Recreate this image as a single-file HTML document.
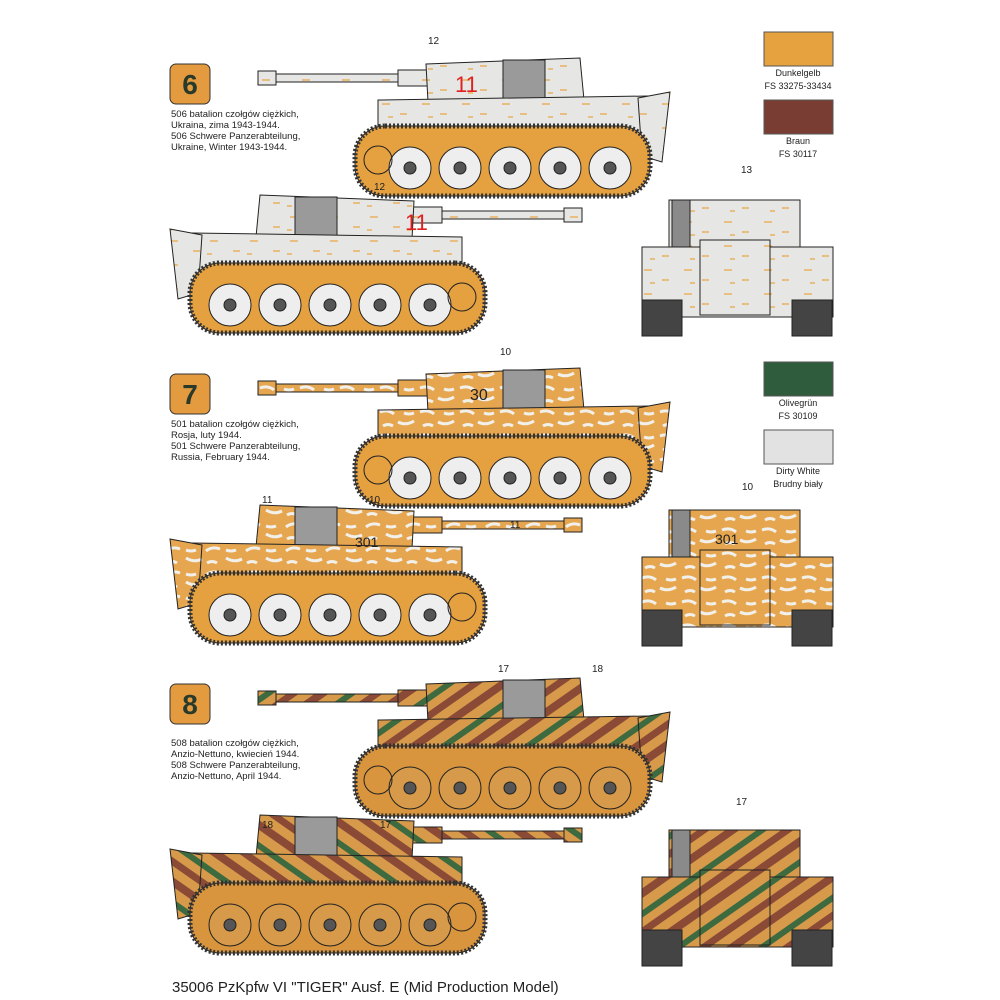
<!DOCTYPE html>
<html><head><style>
html,body{margin:0;padding:0;background:#fff;}
svg{display:block;}
text{font-family:"Liberation Sans",sans-serif;}
</style></head><body>
<svg width="1000" height="1000" viewBox="0 0 1000 1000" xmlns="http://www.w3.org/2000/svg">
<defs>
<pattern id="p7" width="40" height="24" patternUnits="userSpaceOnUse">
  <rect width="40" height="24" fill="#e6a650"/>
  <path d="M2,4 q8,-3 14,2 M20,14 q8,4 16,-1 M5,18 q5,-3 10,0 M26,5 q5,2 10,0" stroke="#f2f0ea" stroke-width="3" fill="none"/>
</pattern>
<pattern id="p8" width="48" height="48" patternUnits="userSpaceOnUse" patternTransform="rotate(-35)">
  <rect width="48" height="48" fill="#d69a4a"/>
  <rect x="0" y="4" width="48" height="8" fill="#8a4a36"/>
  <rect x="0" y="22" width="48" height="6" fill="#3e6a40"/>
  <rect x="0" y="36" width="48" height="7" fill="#8a4a36"/>
</pattern>
<pattern id="p6" width="40" height="24" patternUnits="userSpaceOnUse">
  <rect width="40" height="24" fill="#e6e6e4"/>
  <path d="M4,6 h8 M22,16 h7 M10,19 h5" stroke="#e8b060" stroke-width="1.5"/>
</pattern>
<g id="side" stroke="#222" stroke-width="1">
  <rect x="0" y="21" width="18" height="14" fill="var(--body)"/>
  <rect x="18" y="24" width="160" height="8" fill="var(--body)"/>
  <rect x="140" y="20" width="35" height="16" fill="var(--body)"/>
  <polygon points="168,14 322,8 326,50 170,52" fill="var(--body)"/>
  <rect x="245" y="10" width="42" height="40" fill="#9a9a9a"/>
  <polygon points="120,50 390,46 392,90 120,90" fill="var(--body)"/>
  <polygon points="380,48 412,42 404,112 384,106" fill="var(--body)"/>
  <rect x="97" y="76" width="295" height="70" rx="30" fill="var(--low)"/>
  <rect x="97" y="76" width="295" height="70" rx="30" fill="none" stroke="#333" stroke-width="5" stroke-dasharray="2,2"/>
  <g fill="var(--wheel)">
    <circle cx="152" cy="118" r="21"/><circle cx="202" cy="118" r="21"/><circle cx="252" cy="118" r="21"/><circle cx="302" cy="118" r="21"/><circle cx="352" cy="118" r="21"/>
  </g>
  <g fill="#555"><circle cx="152" cy="118" r="6"/><circle cx="202" cy="118" r="6"/><circle cx="252" cy="118" r="6"/><circle cx="302" cy="118" r="6"/><circle cx="352" cy="118" r="6"/>
  <circle cx="120" cy="110" r="14" fill="none"/></g>
</g>
<g id="rear" stroke="#222" stroke-width="1">
  <rect x="669" y="200" width="131" height="50" fill="var(--body)"/>
  <rect x="672" y="200" width="18" height="50" fill="#8a8a8a"/>
  <rect x="642" y="247" width="191" height="70" fill="var(--body)"/>
  <rect x="700" y="240" width="70" height="75" fill="var(--body)"/>
  <rect x="642" y="300" width="40" height="36" fill="#444"/>
  <rect x="792" y="300" width="40" height="36" fill="#444"/>
</g>
</defs>

<!-- Row 6 -->
<rect x="170" y="64" width="40" height="40" rx="6" fill="#e49a3e" stroke="#333"/>
<text x="190" y="94" font-size="28" font-weight="bold" text-anchor="middle" fill="#2a3a2a">6</text>
<g font-size="9.5" fill="#222">
<text x="171" y="117">506 batalion czołgów ciężkich,</text>
<text x="171" y="128">Ukraina, zima 1943-1944.</text>
<text x="171" y="139">506 Schwere Panzerabteilung,</text>
<text x="171" y="150">Ukraine, Winter 1943-1944.</text>
</g>
<g style="--body:url(#p6);--low:#e5a040;--wheel:#eeeeee">
 <use href="#side" transform="translate(258,50)"/>
 <use href="#side" transform="translate(582,187) scale(-1,1)"/>
 <use href="#rear"/>
</g>
<text x="455" y="92" font-size="22" fill="#e02020">11</text>
<text x="405" y="230" font-size="22" fill="#e02020">11</text>
<text x="428" y="44" font-size="10" fill="#222">12</text>
<text x="374" y="190" font-size="10" fill="#222">12</text>
<text x="741" y="173" font-size="10" fill="#222">13</text>

<!-- swatches -->
<rect x="764" y="32" width="69" height="34" fill="#e5a23e" stroke="#555"/>
<text x="798" y="76" font-size="9" text-anchor="middle" fill="#222">Dunkelgelb</text>
<text x="798" y="89" font-size="9" text-anchor="middle" fill="#222">FS 33275-33434</text>
<rect x="764" y="100" width="69" height="34" fill="#7a3d33" stroke="#555"/>
<text x="798" y="144" font-size="9" text-anchor="middle" fill="#222">Braun</text>
<text x="798" y="157" font-size="9" text-anchor="middle" fill="#222">FS 30117</text>
<rect x="764" y="362" width="69" height="34" fill="#2e5c3c" stroke="#555"/>
<text x="798" y="406" font-size="9" text-anchor="middle" fill="#222">Olivegrün</text>
<text x="798" y="419" font-size="9" text-anchor="middle" fill="#222">FS 30109</text>
<rect x="764" y="430" width="69" height="34" fill="#e2e2e2" stroke="#555"/>
<text x="798" y="474" font-size="9" text-anchor="middle" fill="#222">Dirty White</text>
<text x="798" y="487" font-size="9" text-anchor="middle" fill="#222">Brudny biały</text>

<!-- Row 7 -->
<rect x="170" y="374" width="40" height="40" rx="6" fill="#e49a3e" stroke="#333"/>
<text x="190" y="404" font-size="28" font-weight="bold" text-anchor="middle" fill="#2a3a2a">7</text>
<g font-size="9.5" fill="#222">
<text x="171" y="427">501 batalion czołgów ciężkich,</text>
<text x="171" y="438">Rosja, luty 1944.</text>
<text x="171" y="449">501 Schwere Panzerabteilung,</text>
<text x="171" y="460">Russia, February 1944.</text>
</g>
<g style="--body:url(#p7);--low:#e5a040;--wheel:#eeeeee">
 <use href="#side" transform="translate(258,360)"/>
 <use href="#side" transform="translate(582,497) scale(-1,1)"/>
 <use href="#rear" transform="translate(0,310)"/>
</g>
<text x="470" y="400" font-size="16" fill="#222">30</text>
<text x="355" y="547" font-size="14" fill="#222">301</text>
<text x="715" y="544" font-size="14" fill="#222">301</text>
<text x="500" y="355" font-size="10" fill="#222">10</text>
<text x="510" y="528" font-size="10" fill="#222">11</text>
<text x="262" y="503" font-size="10" fill="#222">11</text>
<text x="369" y="503" font-size="10" fill="#222">10</text>
<text x="742" y="490" font-size="10" fill="#222">10</text>

<!-- Row 8 -->
<rect x="170" y="684" width="40" height="40" rx="6" fill="#e49a3e" stroke="#333"/>
<text x="190" y="714" font-size="28" font-weight="bold" text-anchor="middle" fill="#2a3a2a">8</text>
<g font-size="9.5" fill="#222">
<text x="171" y="746">508 batalion czołgów ciężkich,</text>
<text x="171" y="757">Anzio-Nettuno, kwiecień 1944.</text>
<text x="171" y="768">508 Schwere Panzerabteilung,</text>
<text x="171" y="779">Anzio-Nettuno, April 1944.</text>
</g>
<g style="--body:url(#p8);--low:#d9953e;--wheel:#d69a4a">
 <use href="#side" transform="translate(258,670)"/>
 <use href="#side" transform="translate(582,807) scale(-1,1)"/>
 <use href="#rear" transform="translate(0,630)"/>
</g>
<text x="498" y="672" font-size="10" fill="#222">17</text>
<text x="592" y="672" font-size="10" fill="#222">18</text>
<text x="262" y="828" font-size="10" fill="#222">18</text>
<text x="380" y="828" font-size="10" fill="#222">17</text>
<text x="736" y="805" font-size="10" fill="#222">17</text>

<text x="172" y="992" font-size="15" fill="#222">35006 PzKpfw VI "TIGER" Ausf. E (Mid Production Model)</text>
</svg>
</body></html>
